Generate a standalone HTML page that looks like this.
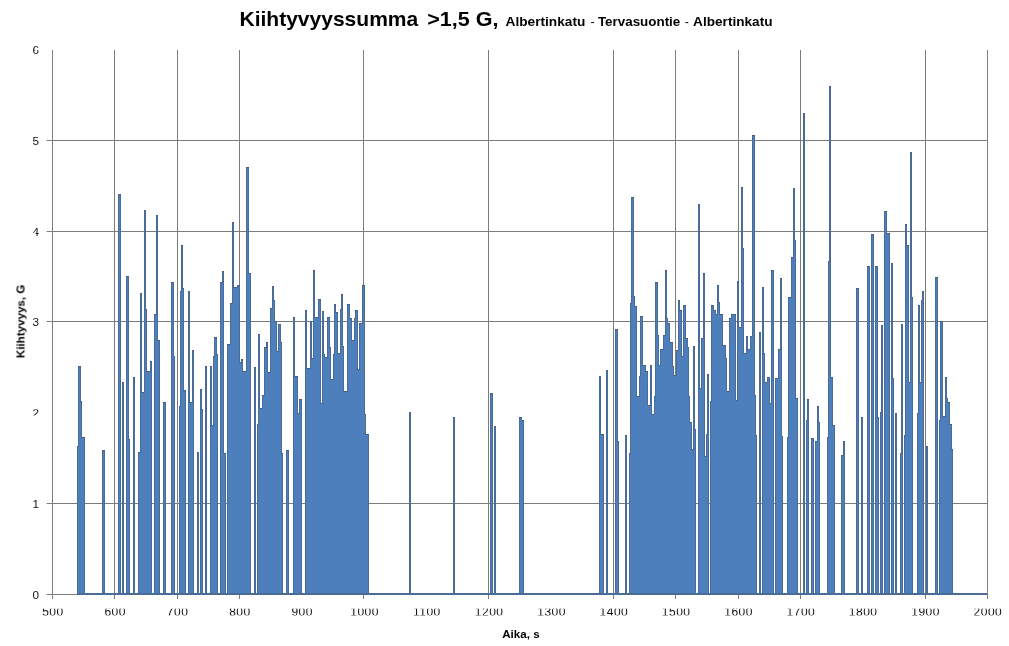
<!DOCTYPE html>
<html><head><meta charset="utf-8"><title>Kiihtyvyyssumma</title>
<style>
html,body{margin:0;padding:0;background:#fff;}
body{width:1009px;height:646px;overflow:hidden;font-family:"Liberation Sans",sans-serif;}
svg{display:block;}
svg text{font-family:"Liberation Sans",sans-serif;}
</style></head><body>
<svg width="1009" height="646" viewBox="0 0 1009 646">
<rect x="0" y="0" width="1009" height="646" fill="#fff"/>
<g fill="#7c7c7c" shape-rendering="crispEdges">
<rect x="47" y="140" width="941" height="1"/>
<rect x="46" y="140" width="1" height="1" fill-opacity="0.4"/>
<rect x="47" y="231" width="941" height="1"/>
<rect x="46" y="231" width="1" height="1" fill-opacity="0.4"/>
<rect x="47" y="321" width="941" height="1"/>
<rect x="46" y="321" width="1" height="1" fill-opacity="0.4"/>
<rect x="47" y="503" width="941" height="1"/>
<rect x="46" y="503" width="1" height="1" fill-opacity="0.4"/>
<rect x="47" y="594" width="941" height="1"/>
<rect x="46" y="594" width="1" height="1" fill-opacity="0.4"/>
<rect x="52" y="50" width="1" height="549"/>
<rect x="114" y="50" width="1" height="549"/>
<rect x="177" y="50" width="1" height="549"/>
<rect x="239" y="50" width="1" height="549"/>
<rect x="363" y="50" width="1" height="549"/>
<rect x="488" y="50" width="1" height="549"/>
<rect x="613" y="50" width="1" height="549"/>
<rect x="675" y="50" width="1" height="549"/>
<rect x="738" y="50" width="1" height="549"/>
<rect x="800" y="50" width="1" height="549"/>
<rect x="925" y="50" width="1" height="549"/>
<rect x="987" y="50" width="1" height="549"/>
</g>
<defs><clipPath id="skc"><path d="M77 595V446H78V366H81V401H82V437H85V595ZM102 595V450H105V595ZM118 595V194H121V595ZM122 595V382H124V595ZM126 595V276H129V439H130V595ZM133 595V377H135V595ZM138 595V452H140V293H142V392H144V210H146V309H147V371H150V361H152V595ZM154 595V314H156V215H158V340H160V595ZM163 595V402H166V595ZM171 595V282H174V356H175V595ZM179 595V406H180V291H181V245H183V288H184V390H186V595ZM188 595V291H190V402H192V350H194V595ZM197 595V452H199V595ZM200 595V389H202V409H203V595ZM205 595V366H207V595ZM210 595V366H212V425H213V356H214V337H217V354H218V595ZM220 595V282H222V271H224V453H226V595ZM227 595V344H230V303H232V222H234V287H237V285H240V362H241V359H243V371H246V167H249V273H251V595ZM254 595V367H256V595ZM257 595V424H258V334H260V408H262V395H264V347H266V342H268V372H270V308H272V286H274V300H275V321H277V351H278V324H281V342H282V453H283V595ZM286 595V450H289V595ZM293 595V317H295V376H298V413H299V399H302V595ZM305 595V310H307V368H310V321H312V358H313V270H315V317H318V299H321V403H322V311H324V354H325V357H327V317H330V347H331V379H333V354H334V304H336V312H338V353H340V309H341V294H343V346H344V391H347V304H350V318H352V340H354V318H355V310H358V369H359V323H362V285H365V414H366V434H369V595ZM409 595V412H411V595ZM453 595V417H455V595ZM490 595V393H493V595ZM494 595V426H496V595ZM519 595V417H522V420H524V595ZM599 595V376H601V434H604V595ZM606 595V370H608V595ZM615 595V329H618V441H619V595ZM625 595V435H627V595ZM629 595V453H630V303H631V197H634V296H635V306H637V396H639V376H640V316H643V365H646V371H648V405H650V365H652V414H654V396H655V282H658V335H659V365H660V349H663V335H665V270H667V318H668V323H670V342H673V366H674V375H676V350H678V300H680V310H682V356H683V305H686V338H688V347H689V396H690V422H692V449H693V346H695V429H696V595ZM698 595V204H700V388H701V338H703V273H705V456H706V434H707V374H709V595ZM710 595V401H711V305H714V310H716V314H717V285H719V302H720V314H723V345H726V358H727V391H729V318H731V314H736V400H737V281H739V327H741V187H743V248H744V353H746V336H748V349H750V336H752V135H755V395H756V435H757V595ZM759 595V332H761V595ZM762 595V287H764V353H765V382H767V377H770V403H771V270H774V595ZM775 595V378H778V349H780V278H782V436H783V595ZM787 595V437H788V297H791V257H793V188H795V240H796V398H798V595ZM803 595V113H805V595ZM806 595V420H807V399H809V595ZM811 595V438H814V595ZM815 595V441H817V406H819V422H820V595ZM827 595V437H828V261H829V86H831V377H833V425H835V595ZM841 595V455H843V441H845V595ZM856 595V288H859V595ZM861 595V417H863V595ZM867 595V266H870V595ZM871 595V234H874V595ZM875 595V266H878V417H879V595ZM880 595V412H881V325H883V595ZM884 595V211H887V233H890V595ZM891 595V263H893V378H894V595ZM895 595V413H897V595ZM900 595V453H901V324H903V595ZM904 595V435H905V224H907V245H909V382H910V152H912V297H913V595ZM917 595V413H918V305H920V382H921V300H922V291H924V595ZM926 595V446H928V595ZM935 595V277H938V595ZM939 595V420H940V321H943V416H945V377H947V398H948V402H950V424H952V449H953V595Z"/></clipPath></defs>
<g shape-rendering="crispEdges">
<path d="M77 595V446H78V366H81V401H82V437H85V595ZM102 595V450H105V595ZM118 595V194H121V595ZM122 595V382H124V595ZM126 595V276H129V439H130V595ZM133 595V377H135V595ZM138 595V452H140V293H142V392H144V210H146V309H147V371H150V361H152V595ZM154 595V314H156V215H158V340H160V595ZM163 595V402H166V595ZM171 595V282H174V356H175V595ZM179 595V406H180V291H181V245H183V288H184V390H186V595ZM188 595V291H190V402H192V350H194V595ZM197 595V452H199V595ZM200 595V389H202V409H203V595ZM205 595V366H207V595ZM210 595V366H212V425H213V356H214V337H217V354H218V595ZM220 595V282H222V271H224V453H226V595ZM227 595V344H230V303H232V222H234V287H237V285H240V362H241V359H243V371H246V167H249V273H251V595ZM254 595V367H256V595ZM257 595V424H258V334H260V408H262V395H264V347H266V342H268V372H270V308H272V286H274V300H275V321H277V351H278V324H281V342H282V453H283V595ZM286 595V450H289V595ZM293 595V317H295V376H298V413H299V399H302V595ZM305 595V310H307V368H310V321H312V358H313V270H315V317H318V299H321V403H322V311H324V354H325V357H327V317H330V347H331V379H333V354H334V304H336V312H338V353H340V309H341V294H343V346H344V391H347V304H350V318H352V340H354V318H355V310H358V369H359V323H362V285H365V414H366V434H369V595ZM409 595V412H411V595ZM453 595V417H455V595ZM490 595V393H493V595ZM494 595V426H496V595ZM519 595V417H522V420H524V595ZM599 595V376H601V434H604V595ZM606 595V370H608V595ZM615 595V329H618V441H619V595ZM625 595V435H627V595ZM629 595V453H630V303H631V197H634V296H635V306H637V396H639V376H640V316H643V365H646V371H648V405H650V365H652V414H654V396H655V282H658V335H659V365H660V349H663V335H665V270H667V318H668V323H670V342H673V366H674V375H676V350H678V300H680V310H682V356H683V305H686V338H688V347H689V396H690V422H692V449H693V346H695V429H696V595ZM698 595V204H700V388H701V338H703V273H705V456H706V434H707V374H709V595ZM710 595V401H711V305H714V310H716V314H717V285H719V302H720V314H723V345H726V358H727V391H729V318H731V314H736V400H737V281H739V327H741V187H743V248H744V353H746V336H748V349H750V336H752V135H755V395H756V435H757V595ZM759 595V332H761V595ZM762 595V287H764V353H765V382H767V377H770V403H771V270H774V595ZM775 595V378H778V349H780V278H782V436H783V595ZM787 595V437H788V297H791V257H793V188H795V240H796V398H798V595ZM803 595V113H805V595ZM806 595V420H807V399H809V595ZM811 595V438H814V595ZM815 595V441H817V406H819V422H820V595ZM827 595V437H828V261H829V86H831V377H833V425H835V595ZM841 595V455H843V441H845V595ZM856 595V288H859V595ZM861 595V417H863V595ZM867 595V266H870V595ZM871 595V234H874V595ZM875 595V266H878V417H879V595ZM880 595V412H881V325H883V595ZM884 595V211H887V233H890V595ZM891 595V263H893V378H894V595ZM895 595V413H897V595ZM900 595V453H901V324H903V595ZM904 595V435H905V224H907V245H909V382H910V152H912V297H913V595ZM917 595V413H918V305H920V382H921V300H922V291H924V595ZM926 595V446H928V595ZM935 595V277H938V595ZM939 595V420H940V321H943V416H945V377H947V398H948V402H950V424H952V449H953V595Z" fill="#4c7fbc"/>
<path d="M77 595V446H78V366H81V401H82V437H85V595ZM102 595V450H105V595ZM118 595V194H121V595ZM122 595V382H124V595ZM126 595V276H129V439H130V595ZM133 595V377H135V595ZM138 595V452H140V293H142V392H144V210H146V309H147V371H150V361H152V595ZM154 595V314H156V215H158V340H160V595ZM163 595V402H166V595ZM171 595V282H174V356H175V595ZM179 595V406H180V291H181V245H183V288H184V390H186V595ZM188 595V291H190V402H192V350H194V595ZM197 595V452H199V595ZM200 595V389H202V409H203V595ZM205 595V366H207V595ZM210 595V366H212V425H213V356H214V337H217V354H218V595ZM220 595V282H222V271H224V453H226V595ZM227 595V344H230V303H232V222H234V287H237V285H240V362H241V359H243V371H246V167H249V273H251V595ZM254 595V367H256V595ZM257 595V424H258V334H260V408H262V395H264V347H266V342H268V372H270V308H272V286H274V300H275V321H277V351H278V324H281V342H282V453H283V595ZM286 595V450H289V595ZM293 595V317H295V376H298V413H299V399H302V595ZM305 595V310H307V368H310V321H312V358H313V270H315V317H318V299H321V403H322V311H324V354H325V357H327V317H330V347H331V379H333V354H334V304H336V312H338V353H340V309H341V294H343V346H344V391H347V304H350V318H352V340H354V318H355V310H358V369H359V323H362V285H365V414H366V434H369V595ZM409 595V412H411V595ZM453 595V417H455V595ZM490 595V393H493V595ZM494 595V426H496V595ZM519 595V417H522V420H524V595ZM599 595V376H601V434H604V595ZM606 595V370H608V595ZM615 595V329H618V441H619V595ZM625 595V435H627V595ZM629 595V453H630V303H631V197H634V296H635V306H637V396H639V376H640V316H643V365H646V371H648V405H650V365H652V414H654V396H655V282H658V335H659V365H660V349H663V335H665V270H667V318H668V323H670V342H673V366H674V375H676V350H678V300H680V310H682V356H683V305H686V338H688V347H689V396H690V422H692V449H693V346H695V429H696V595ZM698 595V204H700V388H701V338H703V273H705V456H706V434H707V374H709V595ZM710 595V401H711V305H714V310H716V314H717V285H719V302H720V314H723V345H726V358H727V391H729V318H731V314H736V400H737V281H739V327H741V187H743V248H744V353H746V336H748V349H750V336H752V135H755V395H756V435H757V595ZM759 595V332H761V595ZM762 595V287H764V353H765V382H767V377H770V403H771V270H774V595ZM775 595V378H778V349H780V278H782V436H783V595ZM787 595V437H788V297H791V257H793V188H795V240H796V398H798V595ZM803 595V113H805V595ZM806 595V420H807V399H809V595ZM811 595V438H814V595ZM815 595V441H817V406H819V422H820V595ZM827 595V437H828V261H829V86H831V377H833V425H835V595ZM841 595V455H843V441H845V595ZM856 595V288H859V595ZM861 595V417H863V595ZM867 595V266H870V595ZM871 595V234H874V595ZM875 595V266H878V417H879V595ZM880 595V412H881V325H883V595ZM884 595V211H887V233H890V595ZM891 595V263H893V378H894V595ZM895 595V413H897V595ZM900 595V453H901V324H903V595ZM904 595V435H905V224H907V245H909V382H910V152H912V297H913V595ZM917 595V413H918V305H920V382H921V300H922V291H924V595ZM926 595V446H928V595ZM935 595V277H938V595ZM939 595V420H940V321H943V416H945V377H947V398H948V402H950V424H952V449H953V595Z" fill="none" stroke="#4a6c98" stroke-width="2" clip-path="url(#skc)"/>
<path d="M77 446h1v1h-1zM78 366h3v1h-3zM81 401h1v1h-1zM82 437h3v1h-3zM102 450h3v1h-3zM118 194h3v1h-3zM122 382h2v1h-2zM126 276h3v1h-3zM129 439h1v1h-1zM133 377h2v1h-2zM138 452h2v1h-2zM140 293h2v1h-2zM142 392h2v1h-2zM144 210h2v1h-2zM146 309h1v1h-1zM147 371h3v1h-3zM150 361h2v1h-2zM154 314h2v1h-2zM156 215h2v1h-2zM158 340h2v1h-2zM163 402h3v1h-3zM171 282h3v1h-3zM174 356h1v1h-1zM179 406h1v1h-1zM180 291h1v1h-1zM181 245h2v1h-2zM183 288h1v1h-1zM184 390h2v1h-2zM188 291h2v1h-2zM190 402h2v1h-2zM192 350h2v1h-2zM197 452h2v1h-2zM200 389h2v1h-2zM202 409h1v1h-1zM205 366h2v1h-2zM210 366h2v1h-2zM212 425h1v1h-1zM213 356h1v1h-1zM214 337h3v1h-3zM217 354h1v1h-1zM220 282h2v1h-2zM222 271h2v1h-2zM224 453h2v1h-2zM227 344h3v1h-3zM230 303h2v1h-2zM232 222h2v1h-2zM234 287h3v1h-3zM237 285h3v1h-3zM240 362h1v1h-1zM241 359h2v1h-2zM243 371h3v1h-3zM246 167h3v1h-3zM249 273h2v1h-2zM254 367h2v1h-2zM257 424h1v1h-1zM258 334h2v1h-2zM260 408h2v1h-2zM262 395h2v1h-2zM264 347h2v1h-2zM266 342h2v1h-2zM268 372h2v1h-2zM270 308h2v1h-2zM272 286h2v1h-2zM274 300h1v1h-1zM275 321h2v1h-2zM277 351h1v1h-1zM278 324h3v1h-3zM281 342h1v1h-1zM282 453h1v1h-1zM286 450h3v1h-3zM293 317h2v1h-2zM295 376h3v1h-3zM298 413h1v1h-1zM299 399h3v1h-3zM305 310h2v1h-2zM307 368h3v1h-3zM310 321h2v1h-2zM312 358h1v1h-1zM313 270h2v1h-2zM315 317h3v1h-3zM318 299h3v1h-3zM321 403h1v1h-1zM322 311h2v1h-2zM324 354h1v1h-1zM325 357h2v1h-2zM327 317h3v1h-3zM330 347h1v1h-1zM331 379h2v1h-2zM333 354h1v1h-1zM334 304h2v1h-2zM336 312h2v1h-2zM338 353h2v1h-2zM340 309h1v1h-1zM341 294h2v1h-2zM343 346h1v1h-1zM344 391h3v1h-3zM347 304h3v1h-3zM350 318h2v1h-2zM352 340h2v1h-2zM354 318h1v1h-1zM355 310h3v1h-3zM358 369h1v1h-1zM359 323h3v1h-3zM362 285h3v1h-3zM365 414h1v1h-1zM366 434h3v1h-3zM409 412h2v1h-2zM453 417h2v1h-2zM490 393h3v1h-3zM494 426h2v1h-2zM519 417h3v1h-3zM522 420h2v1h-2zM599 376h2v1h-2zM601 434h3v1h-3zM606 370h2v1h-2zM615 329h3v1h-3zM618 441h1v1h-1zM625 435h2v1h-2zM629 453h1v1h-1zM630 303h1v1h-1zM631 197h3v1h-3zM634 296h1v1h-1zM635 306h2v1h-2zM637 396h2v1h-2zM639 376h1v1h-1zM640 316h3v1h-3zM643 365h3v1h-3zM646 371h2v1h-2zM648 405h2v1h-2zM650 365h2v1h-2zM652 414h2v1h-2zM654 396h1v1h-1zM655 282h3v1h-3zM658 335h1v1h-1zM659 365h1v1h-1zM660 349h3v1h-3zM663 335h2v1h-2zM665 270h2v1h-2zM667 318h1v1h-1zM668 323h2v1h-2zM670 342h3v1h-3zM673 366h1v1h-1zM674 375h2v1h-2zM676 350h2v1h-2zM678 300h2v1h-2zM680 310h2v1h-2zM682 356h1v1h-1zM683 305h3v1h-3zM686 338h2v1h-2zM688 347h1v1h-1zM689 396h1v1h-1zM690 422h2v1h-2zM692 449h1v1h-1zM693 346h2v1h-2zM695 429h1v1h-1zM698 204h2v1h-2zM700 388h1v1h-1zM701 338h2v1h-2zM703 273h2v1h-2zM705 456h1v1h-1zM706 434h1v1h-1zM707 374h2v1h-2zM710 401h1v1h-1zM711 305h3v1h-3zM714 310h2v1h-2zM716 314h1v1h-1zM717 285h2v1h-2zM719 302h1v1h-1zM720 314h3v1h-3zM723 345h3v1h-3zM726 358h1v1h-1zM727 391h2v1h-2zM729 318h2v1h-2zM731 314h5v1h-5zM736 400h1v1h-1zM737 281h2v1h-2zM739 327h2v1h-2zM741 187h2v1h-2zM743 248h1v1h-1zM744 353h2v1h-2zM746 336h2v1h-2zM748 349h2v1h-2zM750 336h2v1h-2zM752 135h3v1h-3zM755 395h1v1h-1zM756 435h1v1h-1zM759 332h2v1h-2zM762 287h2v1h-2zM764 353h1v1h-1zM765 382h2v1h-2zM767 377h3v1h-3zM770 403h1v1h-1zM771 270h3v1h-3zM775 378h3v1h-3zM778 349h2v1h-2zM780 278h2v1h-2zM782 436h1v1h-1zM787 437h1v1h-1zM788 297h3v1h-3zM791 257h2v1h-2zM793 188h2v1h-2zM795 240h1v1h-1zM796 398h2v1h-2zM803 113h2v1h-2zM806 420h1v1h-1zM807 399h2v1h-2zM811 438h3v1h-3zM815 441h2v1h-2zM817 406h2v1h-2zM819 422h1v1h-1zM827 437h1v1h-1zM828 261h1v1h-1zM829 86h2v1h-2zM831 377h2v1h-2zM833 425h2v1h-2zM841 455h2v1h-2zM843 441h2v1h-2zM856 288h3v1h-3zM861 417h2v1h-2zM867 266h3v1h-3zM871 234h3v1h-3zM875 266h3v1h-3zM878 417h1v1h-1zM880 412h1v1h-1zM881 325h2v1h-2zM884 211h3v1h-3zM887 233h3v1h-3zM891 263h2v1h-2zM893 378h1v1h-1zM895 413h2v1h-2zM900 453h1v1h-1zM901 324h2v1h-2zM904 435h1v1h-1zM905 224h2v1h-2zM907 245h2v1h-2zM909 382h1v1h-1zM910 152h2v1h-2zM912 297h1v1h-1zM917 413h1v1h-1zM918 305h2v1h-2zM920 382h1v1h-1zM921 300h1v1h-1zM922 291h2v1h-2zM926 446h2v1h-2zM935 277h3v1h-3zM939 420h1v1h-1zM940 321h3v1h-3zM943 416h2v1h-2zM945 377h2v1h-2zM947 398h1v1h-1zM948 402h2v1h-2zM950 424h2v1h-2zM952 449h1v1h-1z" fill="#445f82"/>
<rect x="77" y="593" width="910" height="2" fill="#4a6c98"/>
</g>
<g font-size="11.7" fill="#111" style="mix-blend-mode:multiply">
<text x="39.1" y="598.7" text-anchor="end">0</text>
<text x="39.1" y="507.7" text-anchor="end">1</text>
<text x="39.1" y="416.7" text-anchor="end">2</text>
<text x="39.1" y="325.7" text-anchor="end">3</text>
<text x="39.1" y="235.7" text-anchor="end">4</text>
<text x="39.1" y="144.7" text-anchor="end">5</text>
<text x="39.1" y="54.2" text-anchor="end">6</text>
<text x="52.9" y="616.2" text-anchor="middle" font-size="12" letter-spacing="0.5">500</text>
<text x="115.2" y="616.2" text-anchor="middle" font-size="12" letter-spacing="0.5">600</text>
<text x="177.6" y="616.2" text-anchor="middle" font-size="12" letter-spacing="0.5">700</text>
<text x="239.9" y="616.2" text-anchor="middle" font-size="12" letter-spacing="0.5">800</text>
<text x="302.2" y="616.2" text-anchor="middle" font-size="12" letter-spacing="0.5">900</text>
<text x="364.6" y="616.2" text-anchor="middle" font-size="12" letter-spacing="0.5">1000</text>
<text x="426.9" y="616.2" text-anchor="middle" font-size="12" letter-spacing="0.5">1100</text>
<text x="489.2" y="616.2" text-anchor="middle" font-size="12" letter-spacing="0.5">1200</text>
<text x="551.6" y="616.2" text-anchor="middle" font-size="12" letter-spacing="0.5">1300</text>
<text x="613.9" y="616.2" text-anchor="middle" font-size="12" letter-spacing="0.5">1400</text>
<text x="676.2" y="616.2" text-anchor="middle" font-size="12" letter-spacing="0.5">1500</text>
<text x="738.6" y="616.2" text-anchor="middle" font-size="12" letter-spacing="0.5">1600</text>
<text x="800.9" y="616.2" text-anchor="middle" font-size="12" letter-spacing="0.5">1700</text>
<text x="863.2" y="616.2" text-anchor="middle" font-size="12" letter-spacing="0.5">1800</text>
<text x="925.6" y="616.2" text-anchor="middle" font-size="12" letter-spacing="0.5">1900</text>
<text x="987.9" y="616.2" text-anchor="middle" font-size="12" letter-spacing="0.5">2000</text>
</g>
<g fill="#fff">
<rect x="31" y="233" width="4.6" height="1.2"/>
<rect x="35" y="49" width="5" height="1.3"/>
<rect x="36" y="607" width="970" height="1.7"/>
<rect x="36" y="615.4" width="970" height="1.6"/>
<rect x="31" y="407" width="9" height="2.3"/>
<rect x="31" y="415.5" width="9" height="2"/>
</g>
<g font-weight="bold" fill="#000" style="mix-blend-mode:multiply">
<text x="239.5" y="25.5" font-size="21" textLength="178.7" lengthAdjust="spacingAndGlyphs">Kiihtyvyyssumma</text>
<text x="427.3" y="25.5" font-size="21" textLength="71.2" lengthAdjust="spacingAndGlyphs">&gt;1,5 G,</text>
<text x="505.5" y="25.7" font-size="12.3" textLength="79.8" lengthAdjust="spacingAndGlyphs">Albertinkatu</text>
<text x="590.4" y="25.7" font-size="12.3" font-weight="normal">-</text>
<text x="597.9" y="25.7" font-size="12.3" textLength="82.4" lengthAdjust="spacingAndGlyphs">Tervasuontie</text>
<text x="684.7" y="25.7" font-size="12.3" font-weight="normal">-</text>
<text x="693.1" y="25.7" font-size="12.3" textLength="79.4" lengthAdjust="spacingAndGlyphs">Albertinkatu</text>
<text x="502.2" y="637.5" font-size="11.6" textLength="37.4" lengthAdjust="spacingAndGlyphs">Aika, s</text>
<text transform="translate(24.5,358.2) rotate(-90)" font-size="11.3" textLength="73.5" lengthAdjust="spacingAndGlyphs">Kiihtyvyys, G</text>
</g>
</svg>
</body></html>
